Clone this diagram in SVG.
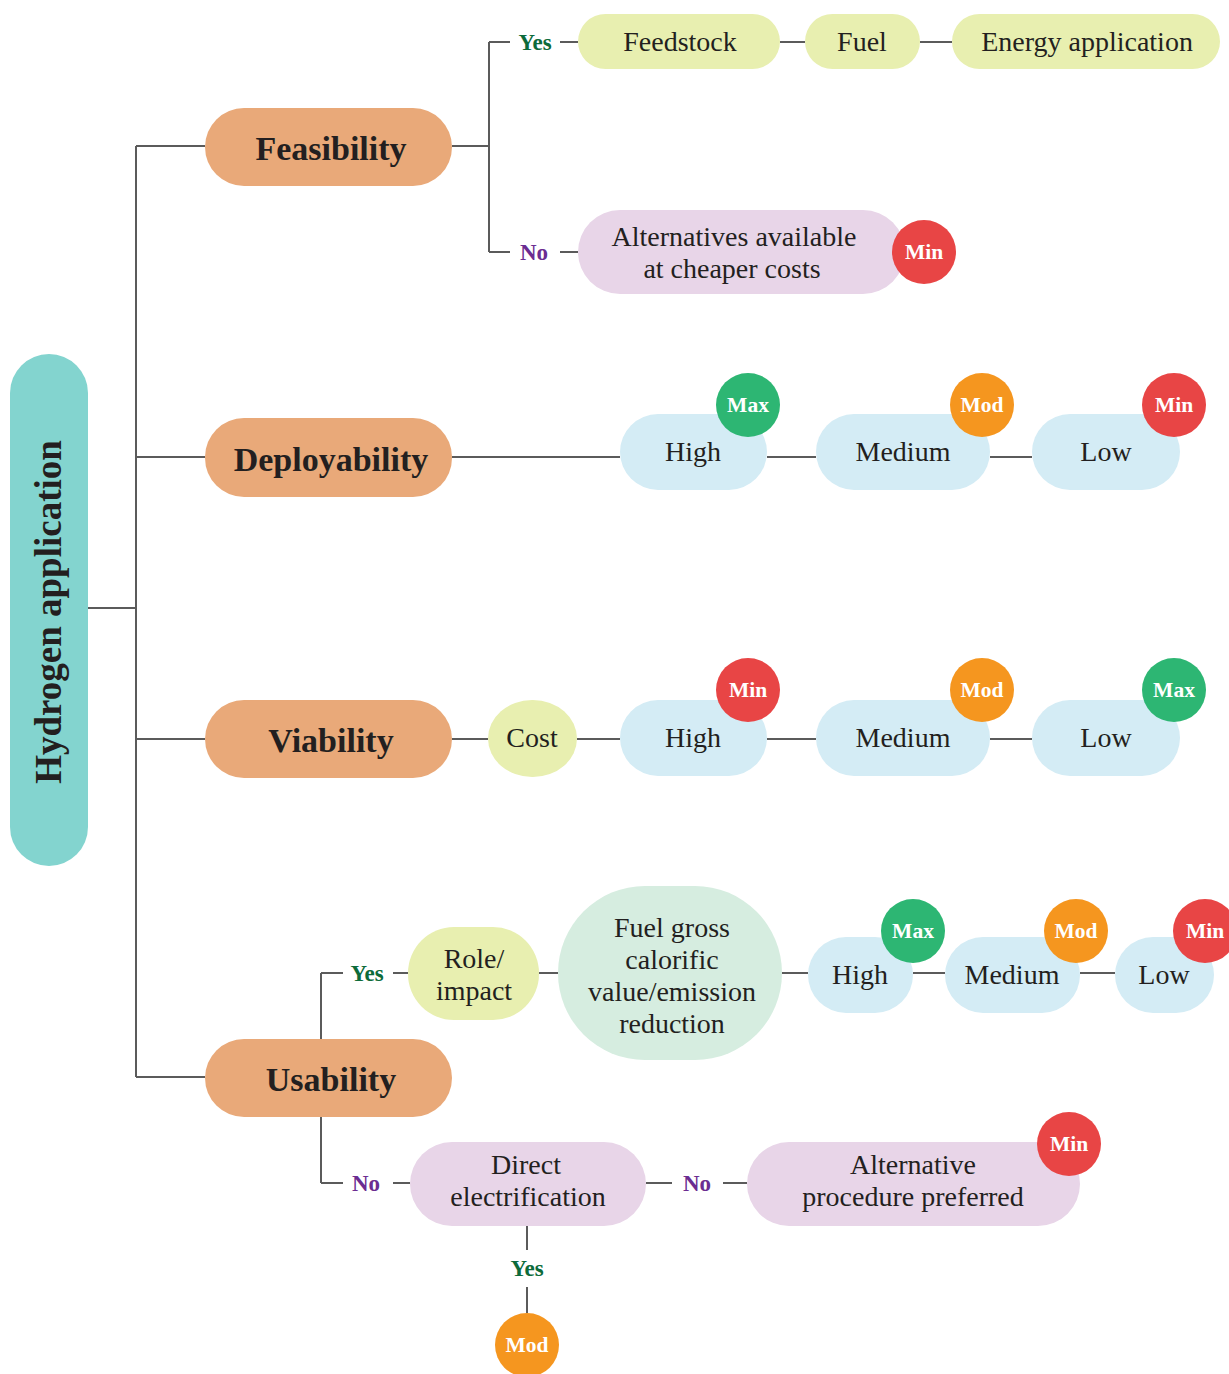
<svg xmlns="http://www.w3.org/2000/svg" width="1229" height="1374" viewBox="0 0 1229 1374">
  <style>
    .ln { stroke: #5b5b5b; stroke-width: 2; fill: none; }
    .root { fill: #83D4CF; }
    .crit { fill: #E9A979; }
    .yel { fill: #E8EFB0; }
    .lav { fill: #E8D5E8; }
    .blue { fill: #D4ECF5; }
    .mint { fill: #D6EDE0; }
    .max { fill: #2DB673; }
    .mod { fill: #F5961F; }
    .min { fill: #E84545; }
    text { font-family: "Liberation Serif", "DejaVu Serif", serif; text-anchor: middle; dominant-baseline: central; }
    .t { font-size: 28px; fill: #231F20; }
    .h { font-size: 34px; font-weight: bold; fill: #231F20; }
    .b { font-size: 21.5px; font-weight: bold; fill: #ffffff; }
    .yes { font-size: 23px; font-weight: bold; fill: #0D6B3A; }
    .no { font-size: 23px; font-weight: bold; fill: #6B2C91; }
  </style>

  <!-- connectors -->
  <g id="connectors">
    <path class="ln" d="M88 608 H136 M136 146 V1077 M136 146 H205 M136 457 H205 M136 739 H205 M136 1077 H205"/>
    <!-- feasibility -->
    <path class="ln" d="M452 146 H489 M489 42 V252 M489 42 H510 M560 42 H578 M780 42 H805 M920 42 H952 M489 252 H510 M560 252 H578"/>
    <!-- deployability -->
    <path class="ln" d="M452 457 H620 M767 457 H816 M990 457 H1032"/>
    <!-- viability -->
    <path class="ln" d="M452 739 H488 M577 739 H620 M767 739 H816 M990 739 H1032"/>
    <!-- usability -->
    <path class="ln" d="M321 973 V1039 M321 1117 V1183 M321 973 H343 M393 973 H408 M539 973 H558 M782 973 H808 M913 973 H945 M1080 973 H1115"/>
    <path class="ln" d="M321 1183 H343 M393 1183 H410 M646 1183 H672 M723 1183 H747 M527 1226 V1250 M527 1287 V1313"/>
    <text class="yes" x="535" y="42">Yes</text>
    <text class="no" x="534" y="252">No</text>
    <text class="yes" x="367" y="973">Yes</text>
    <text class="no" x="366" y="1183">No</text>
    <text class="no" x="697" y="1183">No</text>
    <text class="yes" x="527" y="1268">Yes</text>
  </g>

  <g id="root">
    <rect class="root" x="10" y="354" width="78" height="512" rx="39"/>
    <text class="h" transform="translate(48 612) rotate(-90)" style="font-size:37px">Hydrogen application</text>
  </g>

  <g id="feasibility">
    <rect class="crit" x="205" y="108" width="247" height="78" rx="39"/>
    <text class="h" x="331" y="148">Feasibility</text>
  </g>
  <g id="deployability">
    <rect class="crit" x="205" y="418" width="247" height="79" rx="39"/>
    <text class="h" x="331" y="459">Deployability</text>
  </g>
  <g id="viability">
    <rect class="crit" x="205" y="700" width="247" height="78" rx="39"/>
    <text class="h" x="331" y="740">Viability</text>
  </g>
  <g id="usability">
    <rect class="crit" x="205" y="1039" width="247" height="78" rx="39"/>
    <text class="h" x="331" y="1079">Usability</text>
  </g>

  <!-- feasibility branch -->
  <g id="feedstock">
    <rect class="yel" x="578" y="14" width="202" height="55" rx="27.5"/>
    <text class="t" x="680" y="41">Feedstock</text>
  </g>
  <g id="fuel">
    <rect class="yel" x="805" y="14" width="115" height="55" rx="27.5"/>
    <text class="t" x="862" y="41">Fuel</text>
  </g>
  <g id="energy-application">
    <rect class="yel" x="952" y="14" width="268" height="55" rx="27.5"/>
    <text class="t" x="1087" y="41">Energy application</text>
  </g>
  <g id="alternatives">
    <rect class="lav" x="578" y="210" width="327" height="84" rx="42"/>
    <text class="t" x="734" y="236">Alternatives available</text>
    <text class="t" x="732" y="268">at cheaper costs</text>
    <circle class="min" cx="924" cy="252" r="32"/>
    <text class="b" x="924" y="252">Min</text>
  </g>

  <!-- deployability branch -->
  <g id="dep-high">
    <rect class="blue" x="620" y="414" width="147" height="76" rx="38"/>
    <text class="t" x="693" y="451">High</text>
    <circle class="max" cx="748" cy="405" r="32"/>
    <text class="b" x="748" y="405">Max</text>
  </g>
  <g id="dep-medium">
    <rect class="blue" x="816" y="414" width="174" height="76" rx="38"/>
    <text class="t" x="903" y="451">Medium</text>
    <circle class="mod" cx="982" cy="405" r="32"/>
    <text class="b" x="982" y="405">Mod</text>
  </g>
  <g id="dep-low">
    <rect class="blue" x="1032" y="414" width="148" height="76" rx="38"/>
    <text class="t" x="1106" y="451">Low</text>
    <circle class="min" cx="1174" cy="405" r="32"/>
    <text class="b" x="1174" y="405">Min</text>
  </g>

  <!-- viability branch -->
  <g id="cost">
    <rect class="yel" x="488" y="700" width="89" height="77" rx="44"/>
    <text class="t" x="532" y="737">Cost</text>
  </g>
  <g id="via-high">
    <rect class="blue" x="620" y="700" width="147" height="76" rx="38"/>
    <text class="t" x="693" y="737">High</text>
    <circle class="min" cx="748" cy="690" r="32"/>
    <text class="b" x="748" y="690">Min</text>
  </g>
  <g id="via-medium">
    <rect class="blue" x="816" y="700" width="174" height="76" rx="38"/>
    <text class="t" x="903" y="737">Medium</text>
    <circle class="mod" cx="982" cy="690" r="32"/>
    <text class="b" x="982" y="690">Mod</text>
  </g>
  <g id="via-low">
    <rect class="blue" x="1032" y="700" width="148" height="76" rx="38"/>
    <text class="t" x="1106" y="737">Low</text>
    <circle class="max" cx="1174" cy="690" r="32"/>
    <text class="b" x="1174" y="690">Max</text>
  </g>

  <!-- usability branch -->
  <g id="role-impact">
    <rect class="yel" x="408" y="927" width="131" height="93" rx="46"/>
    <text class="t" x="474" y="958">Role/</text>
    <text class="t" x="474" y="990">impact</text>
  </g>
  <g id="fuel-gross">
    <rect class="mint" x="558" y="886" width="224" height="174" rx="87"/>
    <text class="t" x="672" y="927">Fuel gross</text>
    <text class="t" x="672" y="959">calorific</text>
    <text class="t" x="672" y="991">value/emission</text>
    <text class="t" x="672" y="1023">reduction</text>
  </g>
  <g id="use-high">
    <rect class="blue" x="808" y="937" width="105" height="76" rx="38"/>
    <text class="t" x="860" y="974">High</text>
    <circle class="max" cx="913" cy="931" r="32"/>
    <text class="b" x="913" y="931">Max</text>
  </g>
  <g id="use-medium">
    <rect class="blue" x="945" y="937" width="135" height="76" rx="38"/>
    <text class="t" x="1012" y="974">Medium</text>
    <circle class="mod" cx="1076" cy="931" r="32"/>
    <text class="b" x="1076" y="931">Mod</text>
  </g>
  <g id="use-low">
    <rect class="blue" x="1115" y="937" width="99" height="76" rx="38"/>
    <text class="t" x="1164" y="974">Low</text>
    <circle class="min" cx="1205" cy="931" r="32"/>
    <text class="b" x="1205" y="931">Min</text>
  </g>
  <g id="direct-electrification">
    <rect class="lav" x="410" y="1142" width="236" height="84" rx="42"/>
    <text class="t" x="526" y="1164">Direct</text>
    <text class="t" x="528" y="1196">electrification</text>
  </g>
  <g id="alternative-procedure">
    <rect class="lav" x="747" y="1142" width="333" height="84" rx="42"/>
    <text class="t" x="913" y="1164">Alternative</text>
    <text class="t" x="913" y="1196">procedure preferred</text>
    <circle class="min" cx="1069" cy="1144" r="32"/>
    <text class="b" x="1069" y="1144">Min</text>
  </g>
  <g id="direct-yes-mod">
    <circle class="mod" cx="527" cy="1345" r="32"/>
    <text class="b" x="527" y="1345">Mod</text>
  </g>
</svg>
